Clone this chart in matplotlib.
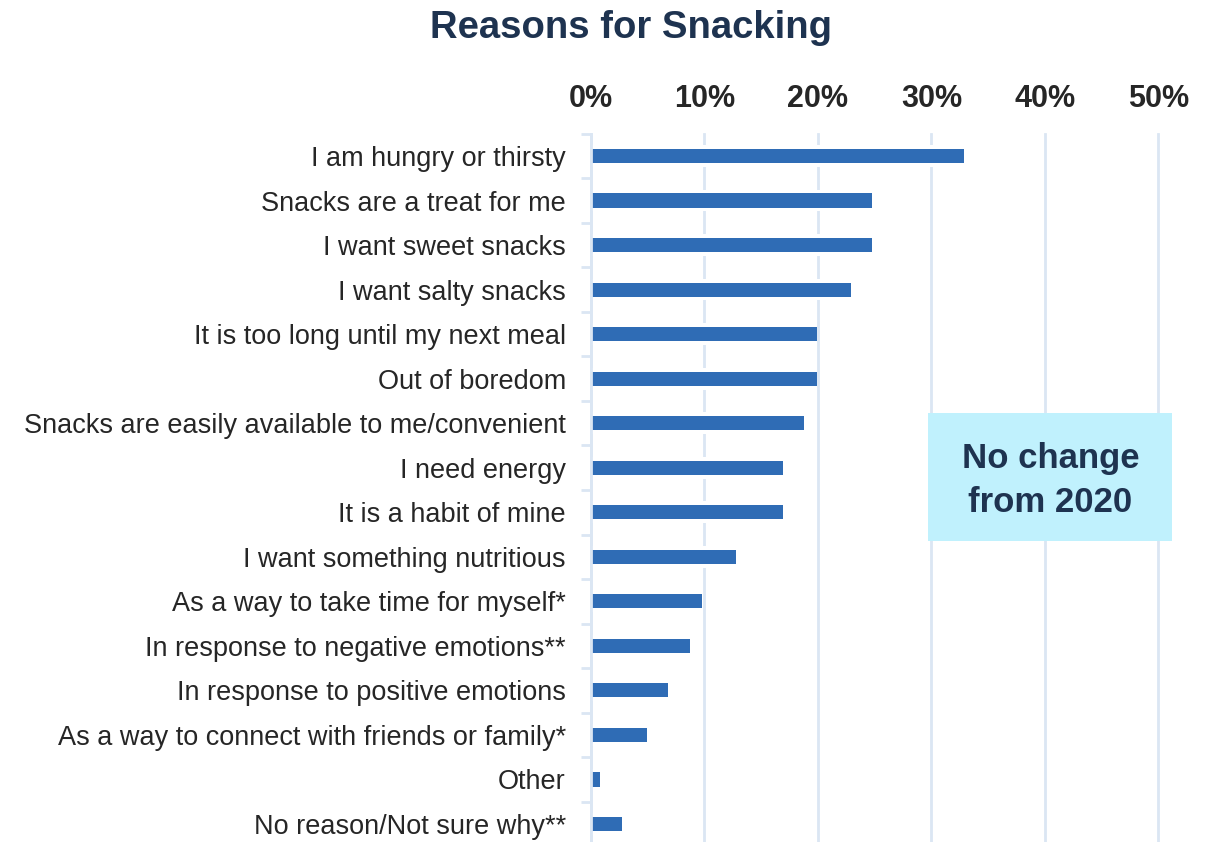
import matplotlib.pyplot as plt
import numpy as np
from matplotlib.patches import Rectangle
from matplotlib.ticker import FixedLocator, PercentFormatter

plt.rcParams['font.family'] = ['Liberation Sans', 'DejaVu Sans']

reasons = [
    "I am hungry or thirsty",
    "Snacks are a treat for me",
    "I want sweet snacks",
    "I want salty snacks",
    "It is too long until my next meal",
    "Out of boredom",
    "Snacks are easily available to me/convenient",
    "I need energy",
    "It is a habit of mine",
    "I want something nutritious",
    "As a way to take time for myself*",
    "In response to negative emotions**",
    "In response to positive emotions",
    "As a way to connect with friends or family*",
    "Other",
    "No reason/Not sure why**",
]
share = [32.9, 24.8, 24.8, 22.9, 19.9, 19.9, 18.8, 16.9, 16.9, 12.8,
         9.8, 8.7, 6.8, 4.9, 0.8, 2.7]
xticks = [0, 10, 20, 30, 40, 50]

navy = '#1e3350'
bar_blue = '#2f6cb5'
grid_col = '#dbe6f3'
text_col = '#262626'

fig = plt.figure(figsize=(12.25, 8.42), dpi=100)
ax = fig.add_axes([0.4824, -0.0051, 0.4633, 0.8463])

y = np.arange(len(reasons))
# white backing so gridlines break around each bar
ax.barh(y, share, height=0.49, color='white', zorder=2)
ax.barh(y, share, height=0.315, color=bar_blue, zorder=3)

ax.set_xlim(0, 50)
ax.set_ylim(len(reasons) - 0.5, -0.5)
ax.xaxis.tick_top()
ax.xaxis.set_major_locator(FixedLocator(xticks))
ax.xaxis.set_major_formatter(PercentFormatter(decimals=0))
ax.tick_params(axis='x', length=0, pad=14, labelsize=22, labelcolor=text_col)
for lbl in ax.get_xticklabels():
    lbl.set_fontweight('bold')
ax.grid(axis='x', color=grid_col, linewidth=2, zorder=1)
for gl in ax.get_xgridlines():
    gl.set_clip_on(False)
ax.set_axisbelow(True)

ax.set_yticks(y)
ax.set_yticklabels(reasons)
ax.tick_params(axis='y', length=0, pad=18, labelsize=19.5, labelcolor=text_col)
ax.set_yticks(np.arange(len(reasons) + 1) - 0.5, minor=True)
ax.tick_params(axis='y', which='minor', length=7, width=2, color=grid_col)

for side in ['top', 'right', 'bottom']:
    ax.spines[side].set_visible(False)
ax.spines['left'].set_color(grid_col)
ax.spines['left'].set_linewidth(2)
ax.spines['left'].set_zorder(4)

fig.text(0.515, 0.967, "Reasons for Snacking", ha='center', va='center',
         fontsize=27.5, fontweight='bold', color=navy)

fig.add_artist(Rectangle((0.7576, 0.3575), 0.1992, 0.152, transform=fig.transFigure,
                         facecolor='#c0f1fd', edgecolor='none', zorder=5))
fig.text(0.8575, 0.4293, "No change\nfrom 2020", ha='center', va='center',
         fontsize=25, fontweight='bold', color=navy, linespacing=1.42, zorder=6)

fig.savefig('out.png', dpi=100)
